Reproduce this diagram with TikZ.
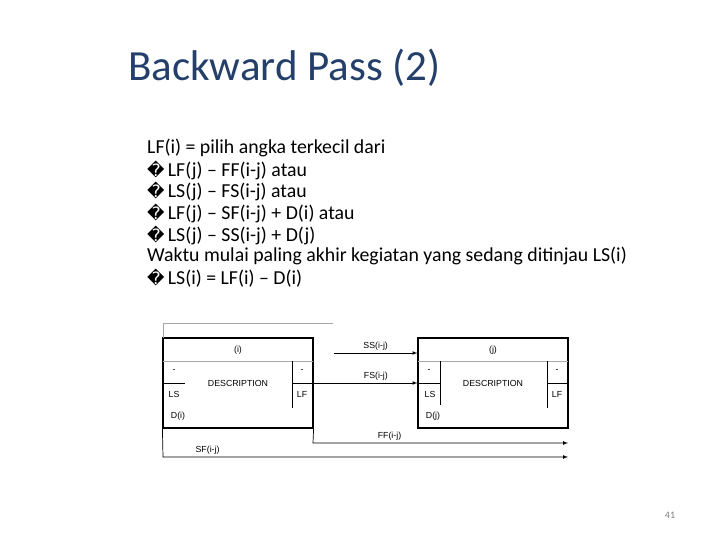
\documentclass[tikz,border=0pt]{standalone}
\usepackage{fontspec}
\setmainfont{Carlito}
\newfontfamily\arialf{Liberation Sans}
\newfontfamily\djv{DejaVu Sans}
\definecolor{ttl}{HTML}{24406A}
\begin{document}
\begin{tikzpicture}[x=1pt,y=-1pt,
  box/.style={draw,line width=1.2pt},
  thin/.style={draw,line width=0.6pt},
  grayl/.style={draw=gray!70,line width=0.6pt},
  lab/.style={font=\arialf\fontsize{8.8}{10}\selectfont,inner sep=1pt},
  arr/.style={draw,line width=0.7pt,-latex},
  body/.style={anchor=west,inner sep=0pt,font=\fontsize{19.8}{22}\selectfont}]
\useasboundingbox (0,0) rectangle (720,540);
\node[anchor=west,inner sep=0pt,font=\fontsize{43}{48}\selectfont,text=ttl] (title) at (128,68) {Backward Pass (2)};
\newcommand\bx{{\djv\fontsize{17}{19}\selectfont\char"FFFD}\,}
\node[body] (t1) at (147,148) {LF(i) = pilih angka terkecil dari};
\node[body] (t2) at (147,170) {\bx LF(j) – FF(i-j) atau};
\node[body] (t3) at (147,191) {\bx LS(j) – FS(i-j) atau};
\node[body] (t4) at (147,213) {\bx LF(j) – SF(i-j) + D(i) atau};
\node[body] (t5) at (147,235) {\bx LS(j) – SS(i-j) + D(j)};
\node[body] (t6) at (147,256) {Waktu mulai paling akhir kegiatan yang sedang ditinjau LS(i)};
\node[body] (t7) at (147,278) {\bx LS(i) = LF(i) – D(i)};
\node[font=\fontsize{10}{11}\selectfont,text=gray] (pg) at (670,515) {41};
% boxes
\node[box,minimum width=150pt,minimum height=90pt,inner sep=0pt] (bi) at (238,383) {};
\node[box,minimum width=150pt,minimum height=90pt,inner sep=0pt] (bj) at (493,383) {};
\draw[grayl] (163,361) -- (313,361) (418,361) -- (568,361);
\draw[thin] (163,383) -- (185,383) (292,361) -- (292,408) (292,383) -- (313,383);
\draw[thin] (418,383) -- (440,383) (440,361) -- (440,405) (547,361) -- (547,408) (547,383) -- (568,383);
\node[lab] (hi) at (238,350) {(i)};
\node[lab] (hj) at (493,350) {(j)};
\node[lab] (di) at (238,383) {DESCRIPTION};
\node[lab] (dj) at (493,383) {DESCRIPTION};
\node[lab] at (174,371) {-};
\node[lab] at (302,371) {-};
\node[lab] at (429,371) {-};
\node[lab] at (557,371) {-};
\node[lab] at (174,394) {LS};
\node[lab] at (302,394) {LF};
\node[lab] at (430,394) {LS};
\node[lab] at (557,394) {LF};
\node[lab] at (178,416) {D(i)};
\node[lab] at (433,416) {D(j)};
% connectors
\coordinate (ss0) at (334,353);
\draw[grayl] (163,338) -- (163,323) -- (333,323);
\draw[arr] (ss0) -- (bj.west |- ss0) node[lab,pos=0.5,above=1pt] {SS(i-j)};
\draw[arr] (bi.east |- 0,383) -- (bj.west |- 0,383) node[lab,pos=0.6,above=1pt] {FS(i-j)};
\coordinate (ff) at (568,443);
\coordinate (sf) at (568,457);
\draw[arr] (bi.south east) -- (313,443) -- (ff) node[lab,pos=0.3,above=1pt] {FF(i-j)};
\draw[arr] (bi.south west) -- (163,457) -- (sf) node[lab,pos=0.11,above=1pt] {SF(i-j)};
\end{tikzpicture}
\end{document}
